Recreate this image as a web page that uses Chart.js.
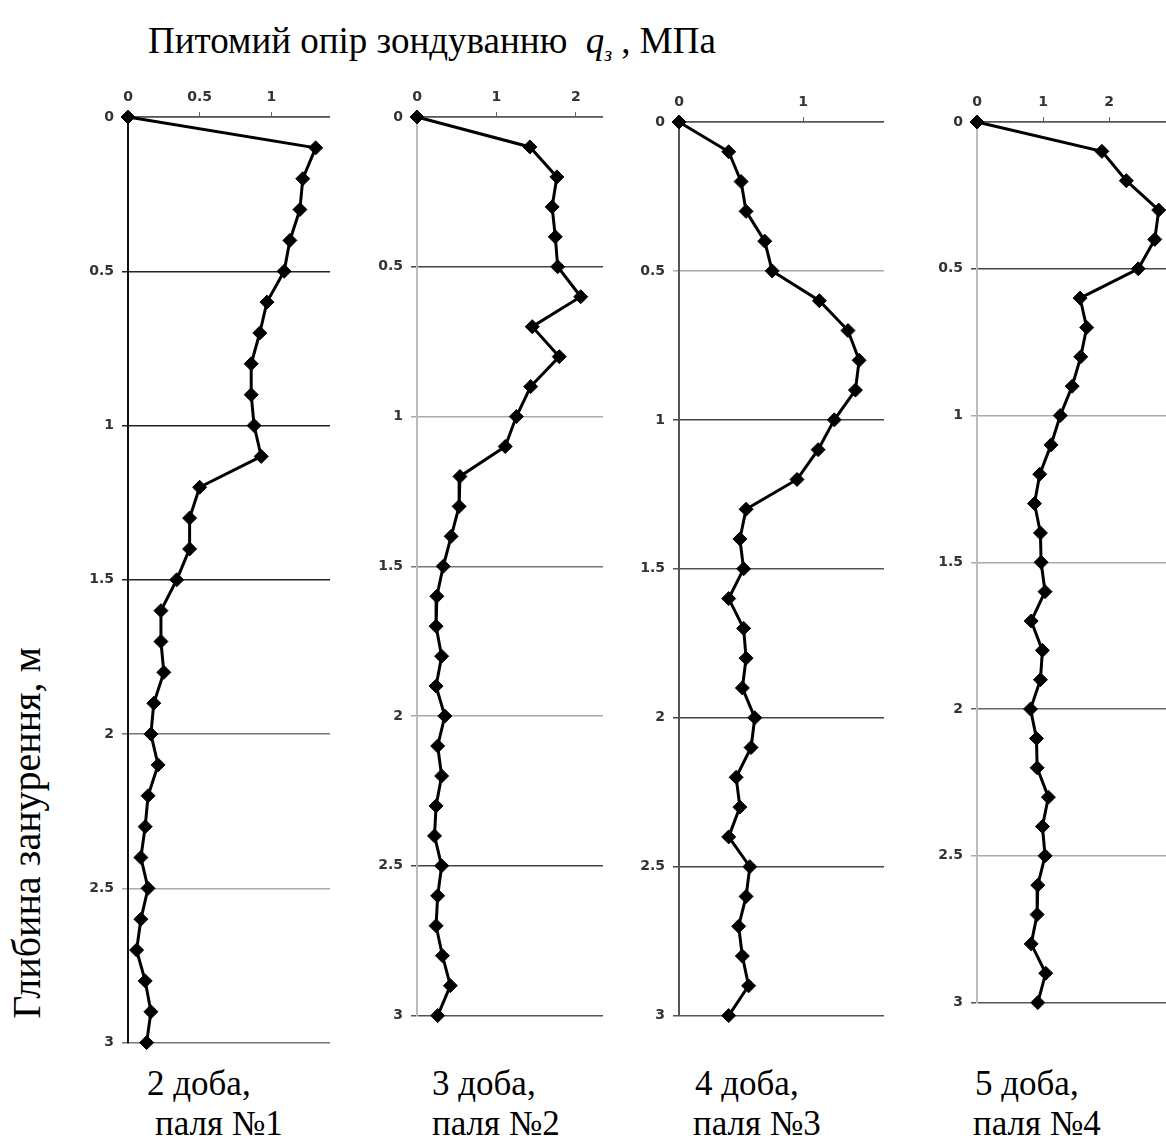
<!DOCTYPE html>
<html>
<head>
<meta charset="utf-8">
<script src="https://cdn.jsdelivr.net/npm/chart.js@4.4.1/dist/chart.umd.min.js"></script>
<style>
  body { margin: 0; background: #fff; width: 1166px; height: 1142px; position: relative; overflow: hidden;
         font-family: "Liberation Serif", "Times New Roman", serif; color: #000; }
  .panel { position: absolute; }
  .txt { position: absolute; white-space: pre; line-height: 1; }
  .cap { font-size: 35px; }
</style>
</head>
<body>

<div class="txt" id="title" style="left:148px; top:22px; font-size:37px;">Питомий опір зондуванню  <i>q</i><sub style="font-size:20px;"><i>з</i></sub> , МПа</div>
<div class="txt" id="ytitle" style="left:27px; top:833px; font-size:40px; transform: translate(-50%,-50%) rotate(-90deg);">Глибина занурення, м</div>

<!-- chart area left = panel left + 45, top = panel top + 40 -->
<div class="panel" style="left:83px; top:77px; width:247px; height:982px;"><canvas id="c1"></canvas></div>
<div class="panel" style="left:372px; top:77px; width:231px; height:955px;"><canvas id="c2"></canvas></div>
<div class="panel" style="left:634px; top:82px; width:250px; height:950px;"><canvas id="c3"></canvas></div>
<div class="panel" style="left:932px; top:82px; width:234px; height:937px;"><canvas id="c4"></canvas></div>

<div class="txt cap" style="left:147px; top:1066px;">2 доба,</div>
<div class="txt cap" style="left:155px; top:1106px;">паля №1</div>
<div class="txt cap" style="left:432px; top:1066px;">3 доба,</div>
<div class="txt cap" style="left:432px; top:1106px;">паля №2</div>
<div class="txt cap" style="left:695px; top:1066px;">4 доба,</div>
<div class="txt cap" style="left:693px; top:1106px;">паля №3</div>
<div class="txt cap" style="left:975px; top:1066px;">5 доба,</div>
<div class="txt cap" style="left:973px; top:1106px;">паля №4</div>

<script>
/* === DATA === */
// глибина, м
const depth = [0, 0.1, 0.2, 0.3, 0.4, 0.5, 0.6, 0.7, 0.8, 0.9, 1.0,
               1.1, 1.2, 1.3, 1.4, 1.5, 1.6, 1.7, 1.8, 1.9, 2.0,
               2.1, 2.2, 2.3, 2.4, 2.5, 2.6, 2.7, 2.8, 2.9, 3.0];

// питомий опір q, МПа
const qPile1 = [0, 1.31, 1.22, 1.20, 1.13, 1.09, 0.97, 0.92, 0.86, 0.86, 0.88,
                0.93, 0.50, 0.43, 0.43, 0.34, 0.23, 0.23, 0.25, 0.18, 0.16,
                0.21, 0.14, 0.12, 0.09, 0.14, 0.09, 0.06, 0.12, 0.16, 0.13];
const qPile2 = [0, 1.42, 1.76, 1.70, 1.74, 1.77, 2.06, 1.45, 1.79, 1.43, 1.25,
                1.11, 0.54, 0.53, 0.43, 0.33, 0.25, 0.24, 0.31, 0.24, 0.35,
                0.26, 0.31, 0.24, 0.22, 0.31, 0.26, 0.24, 0.32, 0.42, 0.26];
const qPile3 = [0, 0.40, 0.50, 0.54, 0.69, 0.75, 1.13, 1.36, 1.45, 1.42, 1.25,
                1.12, 0.95, 0.54, 0.49, 0.52, 0.40, 0.52, 0.54, 0.51, 0.61,
                0.58, 0.46, 0.49, 0.40, 0.57, 0.54, 0.48, 0.51, 0.56, 0.40];
const qPile4 = [0, 1.89, 2.26, 2.75, 2.69, 2.44, 1.56, 1.66, 1.57, 1.44, 1.26,
                1.12, 0.95, 0.87, 0.96, 0.97, 1.03, 0.82, 0.99, 0.96, 0.81,
                0.90, 0.91, 1.08, 0.99, 1.03, 0.92, 0.91, 0.82, 1.04, 0.92];

const series = [qPile1, qPile2, qPile3, qPile4];

// осі
const xMax = [1.41, 2.34, 1.65, 2.86];
const xTicks = [[0, 0.5, 1], [0, 1, 2], [0, 1], [0, 1, 2]];
const yTicks = [0, 0.5, 1, 1.5, 2, 2.5, 3];

/* === STYLE === */
// колір горизонтальних ліній сітки (0 ... 3 через 0.5)
const gridCols = [
  ['#333', '#222', '#222', '#222', '#777', '#aaa', '#777'],
  ['#555', '#444', '#aaa', '#777', '#aaa', '#444', '#555'],
  ['#555', '#aaa', '#444', '#555', '#444', '#444', '#555'],
  ['#555', '#444', '#aaa', '#aaa', '#666', '#aaa', '#555']
];
const yAxisCols = ['#111', '#bbb', '#555', '#bbb'];
const tickFont = { family: "DejaVu Sans", size: 14, weight: "bold" };

function makePanel(i) {
  const ctx = document.getElementById("c" + (i + 1));
  const pts = depth.map((d, k) => ({ x: series[i][k], y: d }));

  return new Chart(ctx, {
    type: "scatter",
    data: {
      datasets: [{
        data: pts,
        showLine: true,
        borderColor: "#000",
        borderWidth: 3,
        pointStyle: "rectRot",
        pointRadius: 7,
        pointBackgroundColor: "#000",
        pointBorderColor: "#000",
        pointBorderWidth: 1,
        tension: 0,
        clip: false
      }]
    },
    options: {
      responsive: true,
      maintainAspectRatio: false,
      animation: false,
      layout: { autoPadding: false, padding: { bottom: 12 } },
      plugins: { legend: { display: false }, tooltip: { enabled: false } },
      scales: {
        x: {
          type: "linear",
          position: "top",
          min: 0,
          max: xMax[i],
          afterBuildTicks: s => { s.ticks = xTicks[i].map(v => ({ value: v })); },
          afterFit: s => { s.height = 40; },
          ticks: { padding: 6, font: tickFont, color: "#333", callback: v => String(v) },
          grid: { drawOnChartArea: false, drawTicks: true, tickLength: 5, color: "#666" },
          border: { color: "#555", width: 1.5 }
        },
        y: {
          type: "linear",
          reverse: true,
          min: 0,
          max: 3,
          afterBuildTicks: s => { s.ticks = yTicks.map(v => ({ value: v })); },
          afterFit: s => { s.width = 45; },
          ticks: { padding: 8, font: tickFont, color: "#333", callback: v => String(v) },
          grid: {
            color: c => gridCols[i][Math.round(c.tick.value * 2)],
            lineWidth: 1.5,
            tickLength: 6
          },
          border: { color: yAxisCols[i], width: 2 }
        }
      }
    }
  });
}

window.addEventListener("load", () => {
  for (let i = 0; i < 4; i++) makePanel(i);
});
</script>
</body>
</html>
